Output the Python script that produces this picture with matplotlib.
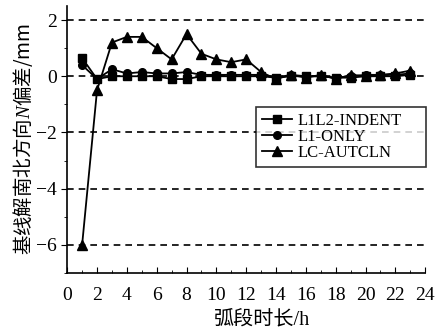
import matplotlib
matplotlib.use("Agg")
import matplotlib.pyplot as plt
import numpy as np

# arc length (h)
hours = list(range(1, 24))
# N bias (mm) for each strategy
l1l2_indent = [0.65, -0.1, 0.0, 0.0, 0.0, 0.0, -0.1, -0.1, 0.0, 0.0, 0.0, 0.0, 0.0,
               -0.05, 0.0, 0.0, 0.0, -0.05, -0.05, 0.0, 0.0, 0.0, 0.05]
l1_only = [0.4, -0.1, 0.25, 0.1, 0.15, 0.1, 0.1, 0.15, 0.05, 0.05, 0.05, 0.05, 0.05,
           -0.05, 0.05, 0.0, 0.0, -0.05, 0.0, 0.05, 0.05, 0.05, 0.1]
lc_autcln = [-6.0, -0.5, 1.2, 1.4, 1.4, 1.0, 0.6, 1.5, 0.8, 0.6, 0.5, 0.6, 0.15,
             -0.1, 0.05, -0.05, 0.05, -0.1, 0.05, 0.0, 0.05, 0.1, 0.2]

plt.rcParams['font.family'] = ['Liberation Serif', 'Noto Sans CJK SC']
plt.rcParams['mathtext.fontset'] = 'custom'
plt.rcParams['mathtext.rm'] = 'Noto Sans CJK SC'
plt.rcParams['mathtext.it'] = 'Liberation Serif:italic'

fig = plt.figure(figsize=(4.42, 3.31), dpi=100)
ax = fig.add_axes([0.152, 0.175, 0.81, 0.807])

for yv in [2, 0, -2, -4, -6]:
    ax.axhline(yv, color='black', lw=1.2, ls=(0, (4, 3)), zorder=1)

ax.plot(hours, l1l2_indent, color='black', marker='s', ms=5.5, lw=1.3, label='L1L2-INDENT', zorder=3)
ax.plot(hours, l1_only, color='black', marker='o', ms=5.5, lw=1.3, label='L1-ONLY', zorder=3)
ax.plot(hours, lc_autcln, color='black', marker='^', ms=7, lw=1.3, label='LC-AUTCLN', zorder=3)

ax.set_xlim(0, 24)
ax.set_ylim(-7, 2.5)
ax.set_xticks(np.arange(0, 25, 2))
ax.set_xticks(np.arange(0, 25, 1), minor=True)
ax.set_yticks([-6, -4, -2, 0, 2])
ax.set_yticks(np.arange(-7, 3, 1), minor=True)
ax.spines['top'].set_visible(False)
ax.spines['right'].set_visible(False)
ax.spines['left'].set_linewidth(1.2)
ax.spines['bottom'].set_linewidth(1.2)
ax.tick_params(axis='x', which='both', direction='in', labelsize=14, pad=10)
ax.tick_params(axis='x', which='major', length=4)
ax.tick_params(axis='x', which='minor', length=2.5)
ax.tick_params(axis='y', which='both', direction='out', labelsize=14)
ax.tick_params(axis='y', which='major', length=4)
ax.tick_params(axis='y', which='minor', length=2.5)

ax.set_xlabel('弧段时长/h', fontsize=14.5)
ax.xaxis.set_label_coords(0.545, -0.143)
ax.set_ylabel('基线解南北方向$\\mathit{N}$偏差/mm', fontsize=14, labelpad=1,
              family='Noto Sans CJK SC')

leg = ax.legend(loc='upper left', bbox_to_anchor=(0.528, 0.0, 0.475, 0.622), mode='expand',
                fontsize=12, frameon=True, fancybox=False, edgecolor='black',
                handlelength=1.8, handletextpad=0.3, labelspacing=0.0,
                borderpad=0.35, borderaxespad=0)
leg.get_frame().set_linewidth(1.2)

fig.savefig('out.png', dpi=100)
